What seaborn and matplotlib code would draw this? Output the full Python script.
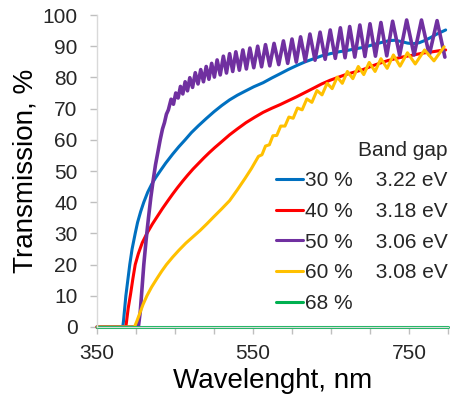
import matplotlib
matplotlib.use("Agg")
import matplotlib.pyplot as plt
import matplotlib.lines as mlines
import pandas as pd
import seaborn as sns

# ---------------- data ----------------
series_labels = ["30 %", "40 %", "50 %", "60 %", "68 %"]
band_gaps = ["3.22 eV", "3.18 eV", "3.06 eV", "3.08 eV", ""]
colors = ["#0070C0", "#FF0000", "#7030A0", "#FFC000", "#00B050"]

wl_30 = [350, 383, 384, 385.5, 387, 389.5, 392, 395, 399, 402, 406, 410, 415, 420, 425,
         431, 438, 447, 455, 463, 471, 480, 490, 500, 510, 520, 530, 540, 551, 563,
         574, 585, 595, 606, 617, 628, 638, 649, 660, 670, 680, 691, 700, 710, 718,
         725, 732, 740, 748, 755, 763, 770, 778, 785, 791, 797]
tr_30 = [0, 0, 2, 6, 10, 15, 20, 25, 30, 33.5, 37, 40, 43.2, 45.7, 47.8,
         50, 52.5, 55.4, 57.8, 60, 62.3, 64.5, 66.8, 69, 71, 72.8, 74.3, 75.6, 77, 78.3,
         79.8, 81.2, 82.5, 83.8, 85, 86, 86.9, 87.6, 88.2, 88.6, 89.1, 89.6, 90.2, 90.9, 91.4,
         91.8, 91.9, 91.5, 91, 90.8, 91.1, 91.8, 92.8, 93.8, 94.5, 95.2]

wl_40 = [350, 387, 388.5, 390, 393, 396, 399, 403, 408, 414, 421, 428, 434, 441, 447,
         453, 460, 466, 473, 480, 487, 494, 501, 508, 514, 520, 530, 541, 552, 563,
         574, 585, 595, 606, 617, 628, 638, 649, 660, 670, 680, 691, 701, 712, 723,
         734, 743, 752, 760, 768, 780, 790, 797]
tr_40 = [0, 0, 3, 6, 10.5, 15.5, 20, 23.5, 27, 30, 33, 35.7, 38, 40.5, 42.6,
         44.6, 46.8, 48.6, 50.6, 52.4, 54.2, 55.9, 57.5, 59, 60.3, 61.6, 63.5, 65.5, 67.2, 68.8,
         70.1, 71.3, 72.5, 73.8, 75.2, 76.6, 77.9, 79.1, 80.1, 81, 81.7, 82.5, 83.5, 84.5, 85.4,
         86.1, 86.6, 87, 87.4, 87.8, 88.2, 88.6, 88.8]

wl_50 = [350, 403, 404, 405.5, 407, 408.5, 410, 413, 416, 419, 422, 425, 428, 431, 434,
         436.5, 439, 441.5,
         445, 448, 451, 454, 457, 460, 463, 466, 469, 472.5, 476, 479.5, 483, 486.5,
         490, 493.5, 497, 500.5, 504, 508, 512, 516, 520, 524, 528, 532.5, 537, 541.5,
         546, 551, 556, 561, 566, 571.5, 577, 583, 589, 594.5, 600, 605.5, 611, 617,
         623, 629.5, 636, 642.5, 649, 655.5, 662, 668, 674, 680.5, 687, 693.5, 700,
         707, 714, 721.5, 729, 738, 747, 756.5, 766, 776, 786, 796]
tr_50 = [0, 0, 2, 5, 10, 15, 20, 28, 35, 41.5, 47, 52, 56, 60, 63.5,
         65.5, 68.2, 69.6,
         73.0, 71.4, 75.0, 73.4, 77.1, 74.7, 78.6, 75.7, 79.9, 76.8, 81.5, 77.9, 82.5, 78.6,
         83.5, 79.4, 84.5, 80.1, 85.6, 80.8, 86.8, 81.4, 87.6, 81.9, 88.2, 82.3, 88.8, 82.7,
         89.4, 83.1, 90.0, 83.4, 90.5, 83.7, 90.9, 84.1, 91.7, 84.5, 92.3, 84.9, 93.0, 85.2,
         93.9, 85.5, 94.5, 85.8, 95.2, 86.1, 95.9, 86.3, 96.3, 86.5, 96.8, 86.7, 97.2,
         86.8, 97.6, 86.9, 98.0, 87.1, 98.4, 87.2, 98.4, 87.2, 98.2, 86.5]

wl_60 = [350, 398, 401, 405, 409, 414, 420, 427, 433, 439, 447, 455, 464, 473, 482,
         491, 500, 510, 520, 530, 540, 548,
         557, 561.5, 566, 571, 575.5, 580.5, 585.5, 591, 596, 601.5, 607, 613, 619, 625.5,
         632, 638.5, 645, 651.5, 658, 664.5, 671, 678, 685, 692, 699, 706.5, 714, 722,
         730, 738.5, 748, 758, 770, 782, 795]
tr_60 = [0, 0, 1.8, 4.5, 7.2, 10, 12.8, 15.6, 17.9, 20, 22.4, 24.6, 26.9, 28.9, 30.9,
         33.1, 35.4, 37.9, 40.5, 44, 47.7, 50.8,
         54.7, 55.2, 58.0, 58.4, 61.3, 61.4, 64.4, 64.4, 67.3, 66.9, 70.2, 69.6, 73.1, 72.0,
         75.8, 74.4, 78.1, 76.4, 80.1, 78.1, 81.9, 79.6, 83.5, 80.9, 84.8, 81.9, 86.0, 82.9,
         87.2, 83.6, 87.9, 84.3, 88.8, 85.3, 89.8]

wl_68 = [350, 800]
tr_68 = [0, 0]

x_major_ticks = [350, 550, 750]
x_minor_ticks = [400, 450, 500, 600, 650, 700, 800]
y_ticks = list(range(0, 101, 10))

# ---------------- plot ----------------
sns.set_theme(style="white")
plt.rcParams["font.family"] = ["Liberation Sans", "DejaVu Sans"]

frames = []
for lab, wl, tr in zip(series_labels,
                       [wl_30, wl_40, wl_50, wl_60, wl_68],
                       [tr_30, tr_40, tr_50, tr_60, tr_68]):
    frames.append(pd.DataFrame({"Wavelength": wl, "Transmission": tr, "Sample": lab}))
df = pd.concat(frames, ignore_index=True)

fig = plt.figure(figsize=(4.56, 3.96), dpi=100)
ax = fig.add_axes([97 / 456, 1 - 327 / 396, 351 / 456, 312 / 396])

sns.lineplot(data=df, x="Wavelength", y="Transmission", hue="Sample",
             hue_order=series_labels, palette=dict(zip(series_labels, colors)),
             estimator=None, sort=False, linewidth=2.2, ax=ax, legend=False)
for ln in ax.lines:
    ln.set_clip_on(False)
    ln.set_solid_joinstyle("round")
    ln.set_solid_capstyle("round")
ax.lines[2].set_linewidth(2.6)

ax.set_xlim(350, 800)
ax.set_ylim(0, 100)
ax.set_xticks(x_major_ticks)
ax.set_xticks(x_minor_ticks, minor=True)
ax.set_yticks(y_ticks)

for side in ["top", "right"]:
    ax.spines[side].set_visible(False)
for side in ["left", "bottom"]:
    ax.spines[side].set_color("#D9D9D9")
    ax.spines[side].set_linewidth(1.0)

ax.tick_params(axis="both", which="both", direction="out", length=5, width=1,
               color="#BFBFBF", labelsize=15, labelcolor="#262626")
ax.tick_params(axis="y", pad=9, left=True)
ax.tick_params(axis="x", which="both", pad=7, bottom=True)

ax.set_xlabel("Wavelenght, nm", fontsize=20, color="black", labelpad=4)
ax.set_ylabel("Transmission, %", fontsize=20, color="black", labelpad=3)

handles = [mlines.Line2D([], [], color=c, linewidth=2.2) for c in colors]
labels = [f"{s}    {g}" if g else s for s, g in zip(series_labels, band_gaps)]
leg = ax.legend(handles, labels, title="Band gap", loc="lower right",
                bbox_to_anchor=(1.0, 0.045), frameon=False, fontsize=15,
                title_fontsize=15, handlelength=1.3, handletextpad=0.1,
                labelspacing=0.56, borderpad=0, borderaxespad=0, alignment="right")
for t in leg.get_texts():
    t.set_color("#262626")
leg.get_title().set_color("#262626")

fig.savefig("out.png", dpi=100)
